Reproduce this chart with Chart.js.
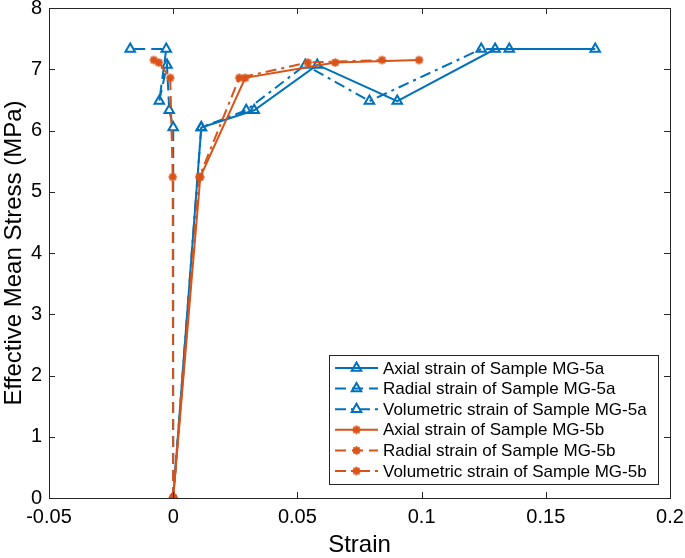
<!DOCTYPE html>
<html>
<head>
<meta charset="utf-8">
<script src="https://cdn.jsdelivr.net/npm/chart.js@4/dist/chart.umd.min.js"></script>
<style>
  html, body { margin: 0; padding: 0; background: #fff; }
  #grafico { display: block; }
</style>
</head>
<body>
<canvas id="grafico" width="685" height="558"></canvas>
<script>
// tick labels
var strainTicks = [-0.05, 0, 0.05, 0.1, 0.15, 0.2];
var stressTicks = [0, 1, 2, 3, 4, 5, 6, 7, 8];

// Sample MG-5a
var stressA = [0, 6.05, 6.33, 7.07, 6.48, 7.33, 7.33];
var axialA  = [0, 0.0113, 0.0326, 0.0580, 0.0902, 0.1296, 0.1699];
var radialA = [0, 0.0000, -0.0016, -0.0025, -0.0056, -0.0028, -0.0173];
var volA    = [0, 0.0113, 0.0294, 0.0532, 0.0790, 0.1240, 0.1353];

// Sample MG-5b
var stressB = [0, 5.24, 6.86, 7.11, 7.15];
var axialB  = [0, 0.0109, 0.0290, 0.0652, 0.0990];
var radialB = [0, -0.0002, -0.0012, -0.0058, -0.0078];
var volB    = [0, 0.0105, 0.0266, 0.0542, 0.0841];

var azul = '#0072BD';
var laranja = '#D95319';
var tracejado = [11, 6];
var tracoPonto = [11, 5, 3, 5];

function pontos(xs, ys) {
    return xs.map(function(x, i) { return { x: x, y: ys[i] }; });
}

// asterisco com ponto cheio (marcador da amostra MG-5b)
var estrela = document.createElement('canvas');
estrela.width = 11;
estrela.height = 11;
(function() {
    var c = estrela.getContext('2d');
    c.strokeStyle = laranja;
    c.fillStyle = laranja;
    c.lineWidth = 1.8;
    for (var k = 0; k < 4; k++) {
        var a = k * Math.PI / 4;
        c.beginPath();
        c.moveTo(5.5 - Math.cos(a) * 4.3, 5.5 - Math.sin(a) * 4.3);
        c.lineTo(5.5 + Math.cos(a) * 4.3, 5.5 + Math.sin(a) * 4.3);
        c.stroke();
    }
    c.beginPath();
    c.arc(5.5, 5.5, 3.3, 0, Math.PI * 2);
    c.fill();
})();

function serieA(label, xs, dash) {
    return {
        label: label,
        data: pontos(xs, stressA),
        showLine: true,
        borderColor: azul,
        borderWidth: 2,
        borderDash: dash,
        pointStyle: 'triangle',
        pointRadius: 5.5,
        pointBorderWidth: 2,
        pointBorderColor: azul,
        pointBackgroundColor: 'rgba(0,0,0,0)'
    };
}

function serieB(label, xs, dash) {
    return {
        label: label,
        data: pontos(xs, stressB),
        showLine: true,
        borderColor: laranja,
        borderWidth: 2,
        borderDash: dash,
        pointStyle: estrela,
        pointRadius: 5,
        pointBorderColor: laranja,
        pointBackgroundColor: laranja
    };
}

var datasets = [
    serieA('Axial strain of Sample MG-5a', axialA, []),
    serieA('Radial strain of Sample MG-5a', radialA, tracejado),
    serieA('Volumetric strain of Sample MG-5a', volA, tracoPonto),
    serieB('Axial strain of Sample MG-5b', axialB, []),
    serieB('Radial strain of Sample MG-5b', radialB, tracejado),
    serieB('Volumetric strain of Sample MG-5b', volB, tracoPonto)
];
// the last series is drawn on top, as in MATLAB
datasets.forEach(function(d, i) { d.order = datasets.length - i; });

var fonte = '"Liberation Sans", Arial, Helvetica, sans-serif';

// moldura da área do gráfico com marcas de escala para dentro
var moldura = {
    id: 'moldura',
    afterDatasetsDraw: function(chart) {
        var ctx = chart.ctx, a = chart.chartArea;
        var sx = chart.scales.x, sy = chart.scales.y;
        ctx.save();
        ctx.strokeStyle = '#262626';
        ctx.lineWidth = 1;
        ctx.beginPath();
        strainTicks.forEach(function(v) {
            var px = Math.round(sx.getPixelForValue(v)) + 0.5;
            ctx.moveTo(px, a.bottom); ctx.lineTo(px, a.bottom - 6);
            ctx.moveTo(px, a.top); ctx.lineTo(px, a.top + 6);
        });
        stressTicks.forEach(function(v) {
            var py = Math.round(sy.getPixelForValue(v)) + 0.5;
            ctx.moveTo(a.left, py); ctx.lineTo(a.left + 6, py);
            ctx.moveTo(a.right, py); ctx.lineTo(a.right - 6, py);
        });
        ctx.stroke();
        ctx.strokeRect(Math.round(a.left) + 0.5, Math.round(a.top) + 0.5,
                       Math.round(a.right - a.left), Math.round(a.bottom - a.top));
        ctx.restore();
    }
};

// legenda no estilo MATLAB: linha + marcador
var legenda = {
    id: 'legenda',
    afterDraw: function(chart) {
        var ctx = chart.ctx;
        var x0 = 329.5, y0 = 355.5, w = 329, h = 129, passo = 20.6;
        ctx.save();
        ctx.fillStyle = '#fff';
        ctx.fillRect(x0, y0, w, h);
        ctx.strokeStyle = '#262626';
        ctx.lineWidth = 1;
        ctx.strokeRect(x0, y0, w, h);
        chart.data.datasets.forEach(function(d, i) {
            var y = 368 + i * passo;
            ctx.strokeStyle = d.borderColor;
            ctx.lineWidth = 2;
            ctx.setLineDash(d.borderDash);
            ctx.beginPath();
            ctx.moveTo(335, y);
            ctx.lineTo(378, y);
            ctx.stroke();
            ctx.setLineDash([]);
            if (d.pointStyle === 'triangle') {
                ctx.fillStyle = 'rgba(0,0,0,0)';
                ctx.strokeStyle = d.borderColor;
                Chart.helpers.drawPoint(ctx, {
                    pointStyle: 'triangle', radius: 5.5, borderWidth: 2, rotation: 0
                }, 356.5, y);
            } else {
                ctx.drawImage(d.pointStyle, 356.5 - 5.5, y - 5.5);
            }
            ctx.fillStyle = '#000';
            ctx.font = '17px ' + fonte;
            ctx.textBaseline = 'middle';
            ctx.textAlign = 'left';
            ctx.fillText(d.label, 383, y + 1);
        });
        ctx.restore();
    }
};

var grafico = new Chart(document.getElementById('grafico').getContext('2d'), {
    type: 'scatter',
    data: { datasets: datasets },
    options: {
        responsive: false,
        devicePixelRatio: 1,
        animation: false,
        layout: { padding: { left: 0, top: 8, right: 15, bottom: 0 } },
        plugins: {
            legend: { display: false },
            tooltip: { enabled: false }
        },
        scales: {
            x: {
                type: 'linear',
                min: -0.05,
                max: 0.2,
                afterBuildTicks: function(s) {
                    s.ticks = strainTicks.map(function(v) { return { value: v }; });
                },
                afterFit: function(s) {
                    s.height = 60;
                    s.paddingLeft = 0;
                    s.paddingRight = 0;
                },
                grid: { display: false, drawTicks: false },
                border: { display: false },
                ticks: {
                    color: '#000',
                    font: { family: fonte, size: 20 },
                    padding: 7,
                    maxRotation: 0,
                    autoSkip: false,
                    callback: function(v) { return String(v); }
                },
                title: {
                    display: true,
                    text: 'Strain',
                    color: '#000',
                    font: { family: fonte, size: 24, lineHeight: 1 },
                    padding: { top: 0, bottom: 1 }
                }
            },
            y: {
                type: 'linear',
                min: 0,
                max: 8,
                afterBuildTicks: function(s) {
                    s.ticks = stressTicks.map(function(v) { return { value: v }; });
                },
                afterFit: function(s) {
                    s.width = 49;
                    s.paddingTop = 0;
                    s.paddingBottom = 0;
                },
                grid: { display: false, drawTicks: false },
                border: { display: false },
                ticks: {
                    color: '#000',
                    font: { family: fonte, size: 20 },
                    padding: 7,
                    autoSkip: false,
                    callback: function(v) { return String(v); }
                },
                title: {
                    display: true,
                    text: 'Effective Mean Stress (MPa)',
                    color: '#000',
                    font: { family: fonte, size: 24, lineHeight: 1 },
                    padding: { top: 2, bottom: 0 }
                }
            }
        }
    },
    plugins: [moldura, legenda]
});
</script>
</body>
</html>
